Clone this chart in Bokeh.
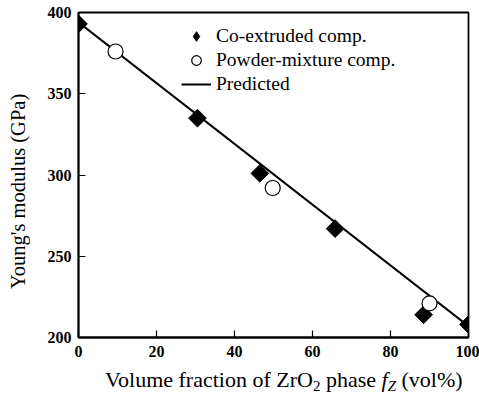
import math
from bokeh.plotting import figure
from bokeh.models import Range1d, Legend, LegendItem, FixedTicker, Div
from bokeh.layouts import row, column
from bokeh.embed import file_html
from bokeh.resources import INLINE

# ---- data ----
co_x = [0, 30.5, 46.5, 65.8, 88.5, 100]
co_y = [393, 335, 301, 267, 214, 208]
pm_x = [9.5, 49.8, 90]
pm_y = [376, 292, 221]
pred_x = [0, 100]
pred_y = [394, 207]
x_ticks = [0, 20, 40, 60, 80, 100]
y_ticks = [200, 250, 300, 350, 400]

FONT = "Liberation Serif"

p = figure(width=443, height=369, x_range=Range1d(x_ticks[0], x_ticks[-1]),
           y_range=Range1d(y_ticks[0], y_ticks[-1]),
           output_backend="svg", toolbar_location=None, margin=0,
           min_border_left=42, min_border_right=11, min_border_top=12, min_border_bottom=32)
p.grid.visible = False
p.outline_line_color = "black"
p.outline_line_width = 1.8
p.background_fill_color = "white"
p.border_fill_color = "white"

for ax in (p.xaxis[0], p.yaxis[0]):
    ax.axis_line_width = 1.8
    ax.axis_line_color = "black"
    ax.major_tick_in = 7
    ax.major_tick_out = 0
    ax.major_tick_line_width = 1.2
    ax.minor_tick_line_color = None
    ax.major_label_text_font = FONT
    ax.major_label_text_font_size = "16px"
    ax.major_label_text_font_style = "bold"
    ax.major_label_text_color = "black"

p.xaxis.ticker = FixedTicker(ticks=x_ticks)
p.yaxis.ticker = FixedTicker(ticks=y_ticks)
p.xaxis.major_label_standoff = 8
p.yaxis.major_label_standoff = 7

pred = p.line(pred_x, pred_y, line_width=2, line_color="black")
co = p.scatter(co_x, co_y, marker="square", size=12.5, angle=math.pi / 4,
               fill_color="black", line_color="black")
# diamond-shaped legend glyph for the co-extruded series (sits inside the first rotated square)
co_key = p.scatter(co_x[:1], co_y[:1], marker="diamond", size=17,
                   fill_color="black", line_color="black")
pm = p.scatter(pm_x, pm_y, marker="circle", size=15, fill_color="white",
               line_color="black", line_width=1.2)

legend = Legend(items=[LegendItem(label="Co-extruded comp.", renderers=[co_key]),
                       LegendItem(label="Powder-mixture comp.", renderers=[pm]),
                       LegendItem(label="Predicted", renderers=[pred])],
                location=(103, 241), label_text_font=FONT, label_text_font_size="19.5px",
                label_text_color="black", border_line_color=None, background_fill_alpha=0,
                padding=0, spacing=0, glyph_width=30, glyph_height=24, label_height=24,
                label_standoff=5, margin=0)
p.add_layout(legend)

ytitle = Div(width=36, height=369, margin=0, text=(
    "<div style=\"writing-mode:vertical-rl; transform:rotate(180deg); height:369px; "
    "box-sizing:border-box; padding-bottom:13px; text-align:center; line-height:36px; "
    "font-family:'Liberation Serif'; font-size:20.5px; color:black; white-space:nowrap;\">"
    "Young's modulus (GPa)</div>"))

xtitle = Div(width=479, height=24, margin=0, text=(
    "<div style=\"font-family:'Liberation Serif'; font-size:22px; line-height:22px; color:black; "
    "padding-left:105px; white-space:nowrap;\">Volume fraction of ZrO"
    "<span style=\"font-size:15px; position:relative; top:4px;\">2</span> phase "
    "<i>f</i><span style=\"font-size:15px; font-style:italic; position:relative; top:4px;\">Z</span>"
    " (vol%)</div>"))

layout = column(row(ytitle, p, spacing=0), xtitle, spacing=0)

open("out.html", "w").write(file_html(layout, INLINE))
